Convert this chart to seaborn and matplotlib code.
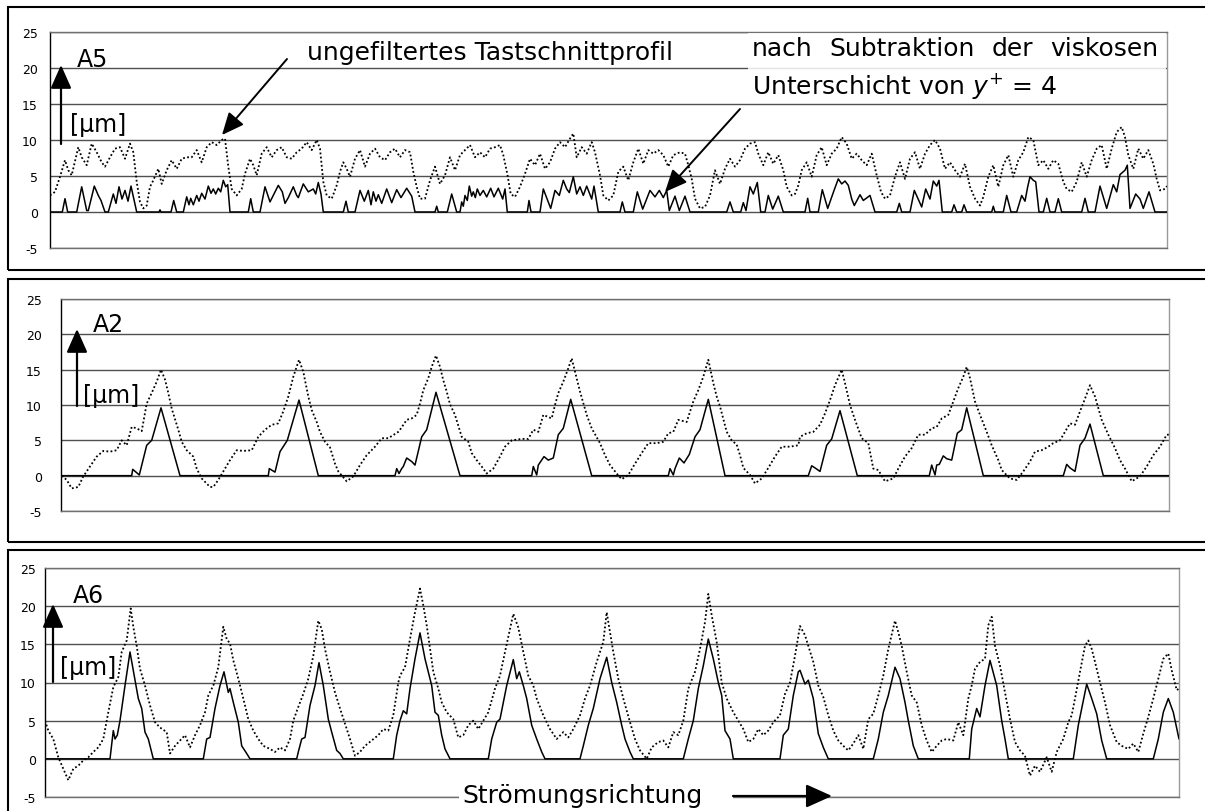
import matplotlib
matplotlib.use("Agg")
import matplotlib.pyplot as plt
import seaborn as sns
import pandas as pd
from matplotlib.patches import Rectangle, FancyArrowPatch

# ---------------- data (x = position along profile, y = height in µm) ----------------
a5_solid = [(0,0),(12.3,0),(15,1.85),(17.7,0),(26.7,0),(31.7,3.5),(36.7,0.2),(38.3,0.2),(44.3,3.6),(48.3,2.3),(51,1.6),(55,0),(58.3,0),(63.3,2.5),(66,1.2),(69,3.5),(72,1.8),(75,3.0),(78,1.5),(81,3.6),(86.7,0),(109,0),(110,0.3),(111,0),(121,0),(123.7,1.6),(126.7,0),(133.3,0),(136.7,2.1),(139,1.0),(140.7,1.9),(143.3,1.0),(146.7,2.3),(149,1.5),(151.7,2.6),(155,1.8),(158.3,3.6),(161,2.6),(163.3,3.2),(165.7,2.5),(168.3,3.3),(170.7,2.8),(173.3,4.4),(175.7,3.5),(177.7,3.8),(180,0),(198.3,0),(200.7,1.85),(203.3,0),(210,0),(215,3.5),(220,1.4),(228.3,3.7),(232.3,2.8),(235,1.2),(238.3,2.0),(243.3,3.5),(246.7,2.3),(248.3,2.0),(253.3,3.9),(258.3,2.8),(263.3,3.2),(265.7,2.5),(268.3,4.1),(271,2.5),(273.3,0),(293.3,0),(296,1.5),(298.3,0),(305,0),(310,3.0),(314.3,1.5),(318.3,3.0),(321,1.0),(323.3,2.8),(326,1.5),(328.3,2.4),(331.7,1.2),(336.7,3.2),(341.7,1.3),(346.7,3.1),(351,2.0),(356.7,3.3),(361.7,2.2),(365,0),(385,0),(386.7,0.8),(388.3,0),(397.3,0),(401.7,2.5),(406.7,0),(410,0),(411.7,1.4),(413.3,0.8),(415,2.3),(417.3,1.6),(419.3,3.6),(421.7,2.2),(423.3,2.8),(425.3,2.0),(427.3,3.2),(430,2.3),(433.3,3.0),(436.7,2.1),(440.7,3.3),(444,2.1),(448.3,3.3),(452.7,1.8),(455,3.2),(457.3,0),(477.3,0),(479,1.6),(481,0),(490,0),(493.3,3.2),(500.7,0.5),(505,3.0),(509.3,2.3),(513.3,4.4),(516.7,3.2),(519.3,2.7),(523.3,4.9),(526.7,2.5),(530,3.5),(533.3,2.3),(536.7,3.6),(541.7,1.8),(544,3.6),(548.3,0),(570,0),(572.3,1.4),(575,0),(583.3,0),(587.3,2.8),(592.7,0.4),(600,3.0),(605,2.1),(609.3,3.0),(613.3,2.0),(616.7,3.0),(619.3,0.2),(625,2.2),(629.3,0.2),(635,2.2),(640,0),(676.7,0),(680,1.4),(683.3,0),(690.7,0),(693.3,1.3),(696,0.2),(700,3.5),(703.3,2.5),(707.3,4.1),(710.7,0),(715,0),(718.3,2.3),(722.7,0.4),(728.3,2.2),(733.3,0),(755,0),(757.7,1.9),(760,0),(768.3,0),(772.3,3.1),(777.7,0.5),(784.3,3.1),(788.3,4.6),(791.7,3.9),(795,4.3),(798.3,3.7),(801.7,1.8),(804.3,0.9),(810,2.4),(813.3,1.6),(820,2.3),(825,0),(846.7,0),(849.3,1.2),(851.7,0),(860,0),(864.3,3.0),(871.7,0.7),(875.7,3.2),(880,1.8),(883.3,4.3),(886.7,3.6),(889,4.4),(892.3,0),(901.7,0),(904,1.0),(906.7,0),(911.7,0),(914,1.0),(916.7,0),(941.7,0),(943.3,0.8),(945,0),(953.3,0),(956.7,2.3),(961,0),(966.7,0),(971.7,2.3),(975,1.5),(977.7,3.5),(980,4.9),(983.3,4.4),(985.7,4.2),(989,0),(993.3,0),(996.7,1.9),(1000,0),(1005,0),(1008.3,1.85),(1011.7,0),(1031.7,0),(1035,1.9),(1038.3,0),(1045,0),(1050,3.6),(1056.7,0.5),(1063.3,3.8),(1066.7,2.8),(1070,5.2),(1075,5.8),(1077.3,6.5),(1080,0.5),(1085.7,2.5),(1090,1.8),(1093.3,0.5),(1099,2.8),(1105,0),(1117,0)]

a5_dotted = [(0,2.3),(5,2.8),(10,4.9),(15,7.2),(18.3,5.8),(21.7,5.1),(28.3,9.0),(31.7,7.6),(36.7,6.5),(41.7,9.5),(46.7,8.3),(51.7,6.9),(55,6.3),(60,7.6),(65,8.8),(70,9.0),(75,7.4),(80,9.5),(83.3,8.3),(86.7,4.2),(90,1.4),(93.3,0.5),(96.7,0.9),(100,3.5),(103.3,4.4),(108.3,6.0),(111.7,3.9),(116.7,5.8),(121.7,7.2),(126.7,6.0),(131.7,7.4),(136.7,7.6),(141.7,7.6),(146.7,8.6),(151.7,6.9),(156.7,9.0),(161.7,9.7),(166.7,9.3),(171.7,10.0),(175,10.2),(178.3,6.3),(181.7,3.2),(186.7,2.3),(191.7,3.2),(195,5.3),(200,7.4),(203.3,6.5),(206.7,5.1),(211.7,8.1),(216.7,9.0),(221.7,7.6),(226.7,8.6),(231.7,9.0),(236.7,7.6),(241.7,7.4),(246.7,8.3),(251.7,8.8),(256.7,9.7),(261.7,8.6),(266.7,10.0),(270,8.8),(273.3,4.2),(276.7,2.3),(281.7,1.85),(286.7,3.7),(290,5.6),(293.3,6.9),(296.7,6.0),(300,4.9),(305,7.4),(310,8.6),(315,6.3),(320,8.1),(325,8.8),(330,7.6),(335,7.2),(340,8.3),(345,8.8),(350,7.6),(355,8.6),(360,8.3),(363.3,5.6),(366.7,3.5),(370,1.85),(375,1.85),(380,4.4),(385,6.3),(390,3.9),(395,5.1),(400,7.6),(405,5.8),(410,7.9),(415,8.6),(420,9.3),(425,7.6),(430,8.3),(435,7.6),(440,8.8),(445,9.0),(450,9.3),(453.3,7.9),(457.3,5.3),(460.7,2.5),(465,2.1),(470,3.5),(475,5.3),(480,7.4),(485,6.5),(490,8.1),(495,6.0),(500,6.9),(505,8.8),(510,9.7),(515,9.0),(520,10.2),(523.3,10.9),(526.7,7.6),(531.7,9.0),(536.7,8.1),(541.7,9.7),(545,8.3),(550,5.1),(553.3,2.3),(558.3,1.6),(563.3,2.3),(568.3,5.6),(573.3,6.3),(578.3,4.4),(583.3,6.9),(588.3,8.8),(593.3,6.7),(598.3,8.6),(603.3,8.1),(608.3,8.6),(613.3,7.9),(618.3,6.3),(623.3,7.9),(630,8.3),(635,8.1),(638.3,6.5),(641.7,4.6),(645,1.85),(650,0.5),(655,0.7),(660,2.3),(665,5.8),(670,3.9),(675,6.0),(680,7.4),(685,6.3),(690,7.2),(695,8.8),(700,9.5),(705,9.7),(708.3,8.1),(713.3,6.5),(718.3,8.3),(723.3,6.7),(728.3,7.9),(733.3,5.8),(736.7,3.5),(741.7,2.3),(745,2.5),(748.3,3.7),(751.7,5.8),(756.7,6.9),(761.7,4.9),(766.7,7.9),(771.7,9.0),(776.7,6.5),(781.7,8.1),(786.7,8.8),(791.7,10.4),(796.7,9.5),(801.7,7.4),(806.7,8.1),(811.7,7.2),(816.7,6.5),(821.7,8.1),(826.7,5.1),(831,2.8),(835,1.85),(840,2.3),(845,4.9),(850,6.9),(855,4.6),(860,7.4),(865,8.3),(870,6.0),(875,8.1),(880,9.3),(885,10.0),(890,8.8),(895,6.0),(900,6.9),(905,5.8),(910,4.9),(915,6.7),(920,3.5),(925,1.85),(930,0.9),(933.3,2.1),(938.3,4.9),(943.3,6.5),(948.3,3.5),(953.3,6.5),(958.3,7.9),(963.3,4.9),(968.3,7.2),(973.3,8.3),(978.3,10.4),(983.3,10.0),(988.3,6.5),(993.3,7.2),(998.3,6.0),(1003.3,7.2),(1008.3,6.7),(1013.3,4.2),(1016.7,3.2),(1021.7,2.8),(1026.7,4.2),(1031.7,6.9),(1036.7,4.9),(1041.7,7.2),(1046.7,8.8),(1051.7,9.3),(1056.7,6.0),(1061.7,8.8),(1066.7,11.1),(1071.7,11.8),(1075,10.4),(1078.3,7.9),(1083.3,6.0),(1088.3,8.8),(1093.3,7.4),(1098.3,8.6),(1103.3,6.7),(1106.7,4.6),(1110,3.0),(1115,3.2),(1117,3.6)]

a2_solid = [(0,0),(70.7,0),(71.7,0.9),(78.3,0.1),(85.7,4.3),(90.7,5.0),(100,9.6),(119,0),(207.3,0),(208.3,1.0),(214,0.5),(219,3.4),(226.3,5.0),(238,10.7),(257.3,0),(334,0),(335.7,1.0),(338,0.3),(340.7,1.0),(342.3,1.3),(345.7,2.5),(350.7,2.0),(354,1.5),(360.7,5.5),(365.7,6.5),(375,11.8),(399,0),(470.7,0),(472.3,1.3),(475.7,0.1),(477.3,1.5),(483,2.7),(487.3,2.2),(492.3,2.5),(497.3,5.8),(502.3,6.7),(509.7,10.8),(530.7,0),(607.3,0),(609,1.0),(612.3,0.1),(614,1.0),(618.3,2.5),(623,1.8),(628.3,3.0),(634,5.5),(639,6.5),(647.3,10.8),(664,0),(747.3,0),(750.7,1.4),(754,1.1),(759,0.6),(765.7,4.3),(770.7,5.2),(779,9.2),(796.3,0),(868.3,0),(870.7,1.5),(874,0.1),(875.7,1.5),(878.3,1.6),(882.3,2.8),(885.7,2.4),(890.7,2.2),(896.3,6.0),(900.7,6.5),(905.7,9.6),(922.3,0),(1002.3,0),(1005.7,1.6),(1009,1.1),(1014,0.6),(1019,4.3),(1024,5.3),(1029,7.3),(1042.3,0),(1108,0)]

a2_dotted = [(0.7,0),(5.7,-0.6),(10.7,-1.8),(17.3,-1.6),(22.3,-0.1),(29,1.3),(35.7,2.7),(42.3,3.5),(49,3.4),(55.7,3.6),(60.7,5.0),(65.7,4.3),(70.7,6.9),(75.7,6.7),(80.7,6.3),(85.7,10.2),(90.7,11.7),(95.7,13.3),(100,15.0),(104,13.6),(107.3,11.7),(110.7,9.5),(117.3,6.5),(120.7,4.8),(125.7,3.6),(132.3,2.7),(135.7,1.0),(140.7,-0.4),(149,-1.6),(152.3,-1.6),(157.3,-0.6),(164,1.0),(169,2.2),(175.7,3.6),(182.3,3.5),(190.7,3.6),(197.3,5.5),(204,6.5),(210.7,7.2),(217.3,7.4),(222.3,9.1),(227.3,11.2),(232.3,14.0),(238,16.4),(242.3,14.7),(247.3,11.2),(250.7,9.3),(255.7,7.6),(259,6.2),(264,4.8),(269,4.0),(274,1.7),(277.3,0.6),(285.7,-0.8),(292.3,-0.1),(299,1.5),(305.7,2.9),(314,4.1),(320.7,5.3),(327.3,5.3),(337.3,6.2),(339,6.5),(345.7,7.9),(350.7,8.1),(355.7,8.6),(359,10.2),(362.3,12.1),(367.3,13.8),(370.7,15.4),(375,17.0),(379,15.4),(382.3,13.5),(385.7,11.9),(389,10.1),(394,8.6),(400.7,5.5),(407.3,4.8),(410.7,3.2),(415.7,2.2),(422.3,1.0),(425.7,0.3),(432.3,1.0),(439,2.7),(444,4.1),(450.7,5.0),(460.7,5.2),(467.3,5.2),(472.3,6.5),(477.3,6.2),(482.3,8.6),(490.7,8.1),(494,10.0),(497.3,11.7),(502.3,13.3),(507.3,15.2),(510.7,16.6),(515.7,13.8),(519,11.9),(525.7,8.6),(530.7,6.7),(539,4.6),(544,2.9),(549,1.5),(555.7,0.3),(560.7,-0.5),(567.3,0.1),(574,1.7),(580.7,3.2),(587.3,4.6),(595.7,4.6),(602.3,4.8),(607.3,6.0),(612.3,6.2),(617.3,7.9),(625.7,7.6),(632.3,10.5),(637.3,12.1),(642.3,14.0),(647.3,16.4),(652.3,13.1),(655.7,11.2),(659,9.8),(665.7,6.2),(670.7,5.0),(675.7,4.4),(679,2.9),(682.3,1.1),(689,0.1),(694,-1.1),(700.7,-0.4),(707.3,1.1),(714,2.7),(720.7,4.1),(729,4.1),(737.3,4.3),(739,5.5),(745.7,6.0),(752.3,6.2),(759,7.2),(764,8.8),(769,10.7),(774,12.8),(780.7,15.0),(784,13.1),(789,10.0),(794,7.9),(800.7,5.3),(807.3,4.6),(812.3,1.0),(817.3,0.8),(824,-0.8),(832.3,-0.4),(837.3,1.0),(844,2.7),(850.7,3.9),(857.3,5.8),(864,5.8),(870.7,6.7),(875.7,6.9),(880.7,8.1),(887.3,8.6),(892.3,10.5),(897.3,12.4),(902.3,14.0),(905.7,15.4),(909,13.8),(914,10.5),(919,8.6),(925.7,6.2),(930.7,4.3),(937.3,2.2),(940.7,0.8),(949,-0.4),(955.7,-0.6),(962.3,0.6),(969,2.0),(974,3.4),(980.7,3.6),(987.3,4.1),(992.3,4.6),(999,5.0),(1004,6.2),(1009,7.4),(1014,7.2),(1019,9.1),(1024,10.9),(1029,12.8),(1034,11.2),(1040.7,7.9),(1047.3,5.8),(1054,3.9),(1059,2.2),(1064,1.0),(1070.7,-0.8),(1079,-0.1),(1085.7,1.3),(1092.3,2.9),(1099,4.1),(1105.7,5.8),(1108,5.8)]

a6_solid = [(0,0),(65,0),(68.3,3.7),(70,2.6),(72.3,3.1),(75,5.0),(80,9.6),(85,14.0),(88.3,11.6),(93.3,7.9),(96.7,6.6),(100,3.5),(103.3,2.6),(108.3,0),(158.3,0),(161.7,2.6),(165,2.8),(170,6.6),(175,9.6),(179,11.4),(183.3,8.7),(185,9.2),(188.3,7.4),(193.3,4.8),(196.7,1.7),(201.7,0.7),(205,0),(251.7,0),(253.3,0.9),(256.7,2.6),(260,2.8),(265,7.0),(270,9.6),(274,12.6),(278.3,9.6),(283.3,5.2),(286.7,3.5),(291.7,1.1),(295,0.7),(298.3,0),(348.3,0),(351.7,3.1),(355,5.0),(358.3,6.3),(361.7,5.9),(365,9.2),(370,13.1),(375,16.5),(380,13.1),(383.3,11.4),(386.7,9.6),(390,6.1),(393.3,5.7),(396.7,3.1),(400,1.3),(405,0),(443.3,0),(446.7,2.6),(451.7,4.8),(455,5.2),(461.7,9.6),(468.3,13.0),(471.7,10.5),(474.3,11.4),(478.3,9.6),(481.7,7.9),(486.7,4.4),(491.7,2.6),(496.7,0.9),(500,0),(535,0),(538.3,1.7),(543.3,4.4),(548.3,6.6),(555,10.5),(561.7,13.3),(566.7,10.0),(571.7,7.4),(576.7,4.4),(580,2.6),(585,0.9),(588.3,0),(638.3,0),(643.3,2.6),(648.3,5.0),(653.3,9.2),(658.3,12.2),(663.3,15.7),(668.3,13.1),(673.3,10.0),(676.7,8.3),(680,3.7),(685,2.6),(688.3,0),(735,0),(738.3,3.1),(743.3,3.9),(748.3,8.3),(753.3,11.4),(755,11.6),(760,9.8),(763.3,10.3),(768.3,7.9),(773.3,3.3),(778.3,1.5),(783.3,0),(828.3,0),(833.3,2.6),(838.3,6.1),(843.3,8.3),(850,12.0),(855,10.5),(860,7.4),(863.3,5.0),(868.3,1.7),(873.3,0),(924.3,0),(926.7,3.9),(931.7,6.6),(935,5.5),(940,9.6),(945,12.9),(951.7,9.6),(956.7,5.0),(960,2.6),(963.3,0),(1028.3,0),(1033.3,4.4),(1036.7,6.6),(1041.7,9.8),(1046.7,7.9),(1051.7,5.9),(1056.7,2.4),(1061.7,0),(1108.3,0),(1113.3,2.6),(1118.3,6.1),(1123.3,7.9),(1128.3,6.1),(1134,2.6)]

a6_dotted = [(0,5.0),(3.3,3.7),(8.3,2.6),(13.3,0.2),(18.3,-1.3),(23.3,-2.8),(28.3,-1.3),(33.3,-0.9),(38.3,-0.2),(43.3,0.2),(48.3,0.9),(53.3,1.5),(58.3,2.6),(63.3,6.1),(68.3,9.4),(73.3,10.7),(76.7,14.0),(81.7,15.5),(85.7,19.7),(88.3,17.3),(91.7,14.8),(95,11.8),(100,9.6),(105,7.0),(110,4.8),(115,4.1),(121.7,3.5),(125,0.7),(130,1.7),(135,2.4),(140,3.1),(145,1.5),(150,3.1),(155,4.4),(160,6.1),(163.3,8.3),(168.3,9.6),(173.3,12.0),(178.3,17.3),(181.7,15.7),(185,15.1),(188.3,12.9),(193.3,10.5),(198.3,7.9),(203.3,5.2),(208.3,3.7),(213.3,2.6),(218.3,1.7),(225,1.3),(230,0.9),(235,1.5),(240,1.1),(245,2.6),(248.3,5.0),(253.3,6.8),(258.3,8.5),(263.3,10.5),(268.3,13.5),(273.3,18.1),(276.7,17.0),(280,14.4),(285,11.4),(290,8.7),(295,6.6),(300,4.6),(305,2.6),(310,0.4),(315,0.9),(320,1.7),(326.7,2.4),(333.3,3.1),(338.3,3.9),(343.3,3.7),(348.3,5.7),(353.3,10.0),(355,10.9),(360,12.0),(365,15.7),(370,19.2),(375,22.3),(378.3,20.1),(381.7,17.5),(385,14.4),(388.3,11.4),(393.3,9.2),(396.7,7.4),(401.7,6.1),(408.3,5.2),(413.3,2.8),(418.3,3.1),(423.3,4.4),(428.3,5.0),(433.3,3.9),(438.3,5.0),(443.3,6.1),(450,9.2),(455,10.9),(460,14.0),(468.3,19.0),(473.3,17.2),(478.3,14.0),(483.3,10.9),(488.3,9.6),(491.7,7.9),(498.3,5.7),(505,3.9),(511.7,2.6),(518.3,3.5),(523.3,2.8),(528.3,3.9),(535,5.7),(540,7.9),(545,9.6),(551.7,12.7),(558.3,15.3),(561.7,19.2),(565,16.6),(568.3,14.0),(573.3,10.5),(578.3,7.9),(585,4.8),(590,2.6),(595,1.1),(601.7,0),(606.7,1.5),(613.3,2.2),(618.3,2.4),(623.3,1.5),(628.3,3.5),(633.3,3.1),(638.3,5.0),(643.3,9.2),(650,11.4),(655,14.4),(660,17.9),(663.3,21.6),(666.7,18.8),(671.7,15.3),(676.7,10.0),(681.7,7.9),(688.3,6.1),(693.3,5.0),(698.3,3.9),(703.3,2.2),(708.3,2.6),(713.3,3.9),(718.3,3.1),(723.3,3.7),(728.3,4.8),(735,5.7),(740,8.5),(745,10.0),(750,13.5),(755,17.4),(760,16.2),(763.3,14.8),(768.3,12.7),(773.3,9.6),(778.3,8.1),(783.3,5.7),(788.3,3.7),(793.3,2.4),(798.3,1.7),(803.3,1.1),(808.3,2.0),(813.3,3.1),(818.3,1.3),(823.3,5.2),(828.3,5.9),(833.3,8.3),(838.3,10.9),(843.3,14.4),(850,18.1),(853.3,16.6),(856.7,14.8),(861.7,11.4),(866.7,8.3),(871.7,7.4),(876.7,4.4),(881.7,2.4),(886.7,0.9),(891.7,1.7),(896.7,2.4),(901.7,2.6),(908.3,2.4),(913.3,4.8),(918.3,3.1),(923.3,7.9),(926.7,9.6),(930,11.8),(935,12.7),(940,13.1),(943.3,17.5),(946.7,18.6),(950,14.8),(955,12.2),(960,8.7),(965,5.2),(970,2.2),(975,1.1),(980,0.4),(985,-2.2),(990,-0.9),(995,-1.7),(1001.7,0.2),(1006.7,-1.7),(1011.7,0.9),(1018.3,2.6),(1023.3,4.8),(1026.7,5.7),(1030,7.9),(1035,11.4),(1040,14.8),(1043.3,15.5),(1046.7,14.4),(1050,12.7),(1055,10.0),(1060,7.4),(1065,4.4),(1071.7,2.2),(1076.7,1.7),(1083.3,1.3),(1088.3,2.0),(1093.3,0.9),(1098.3,3.3),(1103.3,5.5),(1108.3,7.9),(1113.3,10.5),(1118.3,13.1),(1123.3,13.8),(1126.7,11.6),(1131.7,9.0),(1134,9.2)]

y_ticks = [-5, 0, 5, 10, 15, 20, 25]
panel_names = ["A5", "A2", "A6"]
unit_label = "[µm]"
label_raw = "ungefiltertes Tastschnittprofil"
label_sub_line1 = ["nach", "Subtraktion", "der", "viskosen"]
label_sub_line2 = r"Unterschicht von $y^{+}$ = 4"
flow_label = "Strömungsrichtung"

# ---------------- figure ----------------
W, H = 1205, 812
sns.set_theme(style="white")
plt.rcParams["font.family"] = ["DejaVu Sans"]
plt.rcParams["mathtext.fontset"] = "dejavusans"
plt.rcParams["text.color"] = "black"
plt.rcParams["axes.unicode_minus"] = False

fig = plt.figure(figsize=(W / 100, H / 100), dpi=100)
fig.patch.set_facecolor("white")


def fx(px):
    return px / W


def fy(py):
    return 1 - py / H


layout = [
    dict(left=50, right=1167, top=33, bottom=249, pad=8, ft=8, fb=271),
    dict(left=61, right=1169, top=300, bottom=512, pad=15, ft=280, fb=543),
    dict(left=45, right=1179, top=569, bottom=798, pad=5, ft=551, fb=830),
]
series = [(a5_solid, a5_dotted), (a2_solid, a2_dotted), (a6_solid, a6_dotted)]
xmax = [1117, 1108, 1134]

for i, (lay, (sol, dot)) in enumerate(zip(layout, series)):
    fig.add_artist(Rectangle((fx(8), fy(lay["fb"])), fx(1250) - fx(8),
                             (lay["fb"] - lay["ft"]) / H, transform=fig.transFigure,
                             fill=False, edgecolor="black", lw=1.5, zorder=0))
    ax = fig.add_axes([fx(lay["left"]), fy(lay["bottom"]),
                       fx(lay["right"]) - fx(lay["left"]),
                       (lay["bottom"] - lay["top"]) / H])
    ax.set_facecolor("none")
    ds = pd.DataFrame(sol, columns=["x", "y"])
    dd = pd.DataFrame(dot, columns=["x", "y"])
    sns.lineplot(data=dd, x="x", y="y", ax=ax, color="black", lw=1.3,
                 linestyle=(0, (1, 1.3)), sort=False, estimator=None, zorder=3)
    sns.lineplot(data=ds, x="x", y="y", ax=ax, color="black", lw=1.1,
                 sort=False, estimator=None, zorder=4)
    ax.set_xlim(0, xmax[i])
    ax.set_ylim(-5, 25)
    ax.set_yticks(y_ticks)
    ax.set_yticklabels([str(v) for v in y_ticks])
    ax.set_xticks([])
    ax.set_xlabel("")
    ax.set_ylabel("")
    ax.yaxis.grid(True, color="#505050", lw=1.0)
    ax.set_axisbelow(True)
    ax.tick_params(axis="y", direction="out", length=3, width=0.8, color="black",
                   pad=lay["pad"] * 0.72, labelsize=9, labelcolor="black")
    for s in ["top", "bottom"]:
        ax.spines[s].set_color("#707070")
        ax.spines[s].set_linewidth(1.0)
    ax.spines["right"].set_color("#9a9a9a")
    ax.spines["right"].set_linewidth(1.0)
    ax.spines["left"].set_color("black")
    ax.spines["left"].set_linewidth(1.0)


def arrow(x0, y0, x1, y1, lw=1.6, hl=0.9, hw=0.4, ms=16):
    p = FancyArrowPatch((fx(x0), fy(y0)), (fx(x1), fy(y1)), transform=fig.transFigure,
                        arrowstyle=f"-|>,head_length={hl},head_width={hw}",
                        mutation_scale=ms, lw=lw, color="black",
                        shrinkA=0, shrinkB=0, zorder=6)
    fig.add_artist(p)


arrow(61, 145, 61, 66)
arrow(77, 407, 77, 330)
arrow(53, 683, 53, 605)
for (tx, ty), name in zip([(77, 67), (93, 332), (73, 603)], panel_names):
    fig.text(fx(tx), fy(ty), name, fontsize=17, va="baseline", ha="left", color="black")
for (tx, ty) in [(70, 132), (83, 403), (60, 675)]:
    fig.text(fx(tx), fy(ty), unit_label, fontsize=17, va="baseline", ha="left", color="black")

fig.text(fx(307), fy(60), label_raw, fontsize=18, va="baseline", ha="left", color="black")
arrow(287, 60, 222, 136, lw=1.4, hl=0.9, hw=0.4, ms=15)

fig.add_artist(Rectangle((fx(748), fy(104)), fx(1166) - fx(748), (104 - 34) / H,
                         transform=fig.transFigure, facecolor="white", alpha=0.85,
                         edgecolor="none", zorder=5))
renderer = fig.canvas.get_renderer()
words = [fig.text(fx(752), fy(56), w, fontsize=18, va="baseline", ha="left",
                  color="black", zorder=7) for w in label_sub_line1]
widths = [t.get_window_extent(renderer=renderer).width for t in words]
gap = ((1158 - 752) - sum(widths)) / (len(words) - 1)
xpos = 752
for t, w in zip(words, widths):
    t.set_x(fx(xpos))
    xpos += w + gap
fig.text(fx(752), fy(94), label_sub_line2, fontsize=18, va="baseline", ha="left",
         color="black", zorder=7)
arrow(740, 110, 665, 193, lw=1.4, hl=0.9, hw=0.4, ms=15)

fig.add_artist(Rectangle((fx(459), fy(806)), fx(733) - fx(459), 18 / H,
                         transform=fig.transFigure, facecolor="white",
                         edgecolor="none", zorder=5))
fig.text(fx(462), fy(803), flow_label, fontsize=18, va="baseline", ha="left",
         color="black", zorder=7)
arrow(733, 797, 832, 797, lw=1.6, hl=1.0, hw=0.45, ms=16)

fig.savefig("out.png", dpi=100, facecolor="white")
